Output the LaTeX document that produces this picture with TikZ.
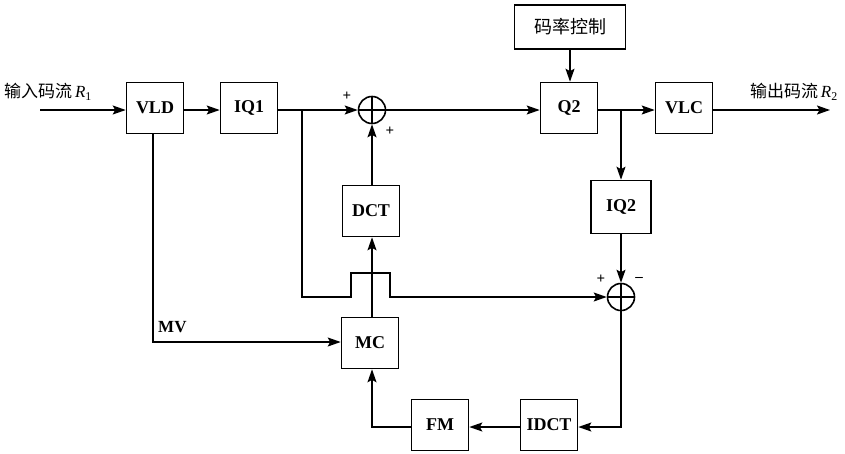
\documentclass[tikz,border=0pt]{standalone}
\usepackage{fontspec}
\setmainfont{Liberation Serif}
\newfontfamily\cjk{Noto Sans CJK SC}
\usetikzlibrary{arrows.meta}
\tikzset{
  blk/.style={draw, line width=1.6pt, minimum width=57pt, minimum height=51pt, inner sep=0pt, font=\fontsize{18}{20}\selectfont\bfseries},
  summ/.style={circle, draw, line width=1.6pt, minimum size=27pt, inner sep=0pt,
    path picture={\draw[line width=1.6pt] (path picture bounding box.north) -- (path picture bounding box.south)
      (path picture bounding box.west) -- (path picture bounding box.east);}},
  arr/.style={line width=1.6pt, -{Stealth[length=13pt,width=9pt,inset=2.5pt]}},
  sgn/.style={font=\fontsize{15}{16}\selectfont\bfseries, inner sep=0pt},
  lab/.style={font=\fontsize{17}{19}\selectfont, inner sep=0pt}
}
\begin{document}
\begin{tikzpicture}[x=1pt,y=-1pt]
\useasboundingbox (0,0) rectangle (845,453);
% blocks
\node[blk] (vld) at (155,108) {VLD};
\node[blk] (iq1) at (249,108) {IQ1};
\node[summ] (s1) at (372,110) {};
\node[blk] (q2) at (569,108) {Q2};
\node[blk] (vlc) at (684,108) {VLC};
\node[blk, minimum width=111pt, minimum height=44pt, font=\fontsize{18}{20}\selectfont] (rc) at (570,27) {\cjk 码率控制};
\node[blk] (dct) at (371,211) {DCT};
\node[blk, minimum width=60pt, minimum height=53pt] (iq2) at (621,207) {IQ2};
\node[summ] (s2) at (621,297) {};
\node[blk] (mc) at (370,343) {MC};
\node[blk] (fm) at (440,425) {FM};
\node[blk] (idct) at (549,425) {IDCT};
% coordinates
\coordinate (in) at (40,110);
\coordinate (out) at (830,110);
\coordinate (b1) at (302,110);
\coordinate (b2) at (621,110);
% labels
\node[lab, anchor=west] (inl) at (4,92) {\cjk 输入码流\,\fontspec{Liberation Serif}\textit{R}\textsubscript{1}};
\node[lab, anchor=east] (outl) at (838,92) {\cjk 输出码流\,\fontspec{Liberation Serif}\textit{R}\textsubscript{2}};
\node[lab, anchor=west, font=\fontsize{17}{19}\selectfont\bfseries] (mvl) at (158,327) {MV};
\node[sgn] (p1) at (347,96) {+};
\node[sgn] (p2) at (390,131) {+};
\node[sgn] (p3) at (601,279) {+};
\node[sgn] (m1) at (639,279) {\textendash};
% connectors
\draw[arr] (in) -- (vld.west |- in);
\draw[arr] (vld.east |- in) -- (iq1.west |- in);
\draw[arr] (iq1.east |- in) -- (s1.west);
\draw[arr] (s1.east) -- (q2.west |- s1);
\draw[arr] (q2.east |- in) -- (vlc.west |- in);
\draw[arr] (vlc.east |- in) -- (out);
\draw[arr] (rc.south) -- (q2.north -| rc.south);
\draw[arr] (b2) -- (iq2.north -| b2);
\draw[arr] (iq2.south) -- (s2.north);
\draw[arr] (dct.north -| s1) -- (s1.south);
\draw[arr] (mc.north -| 372,0) -- (dct.south -| 372,0);
\draw[arr] (b1) -- (302,297) -- (351,297) -- (351,273) -- (390,273) -- (390,297) -- (s2.west);
\draw[arr] (s2.south) -- (621,427) -- (idct.east |- 0,427);
\draw[arr] (idct.west |- 0,427) -- (fm.east |- 0,427);
\draw[arr] (fm.west |- 0,427) -- (372,427) -- (mc.south -| 372,0);
\draw[arr] (vld.south -| 153,0) -- (153,342) -- (mc.west |- 0,342);
\end{tikzpicture}
\end{document}
